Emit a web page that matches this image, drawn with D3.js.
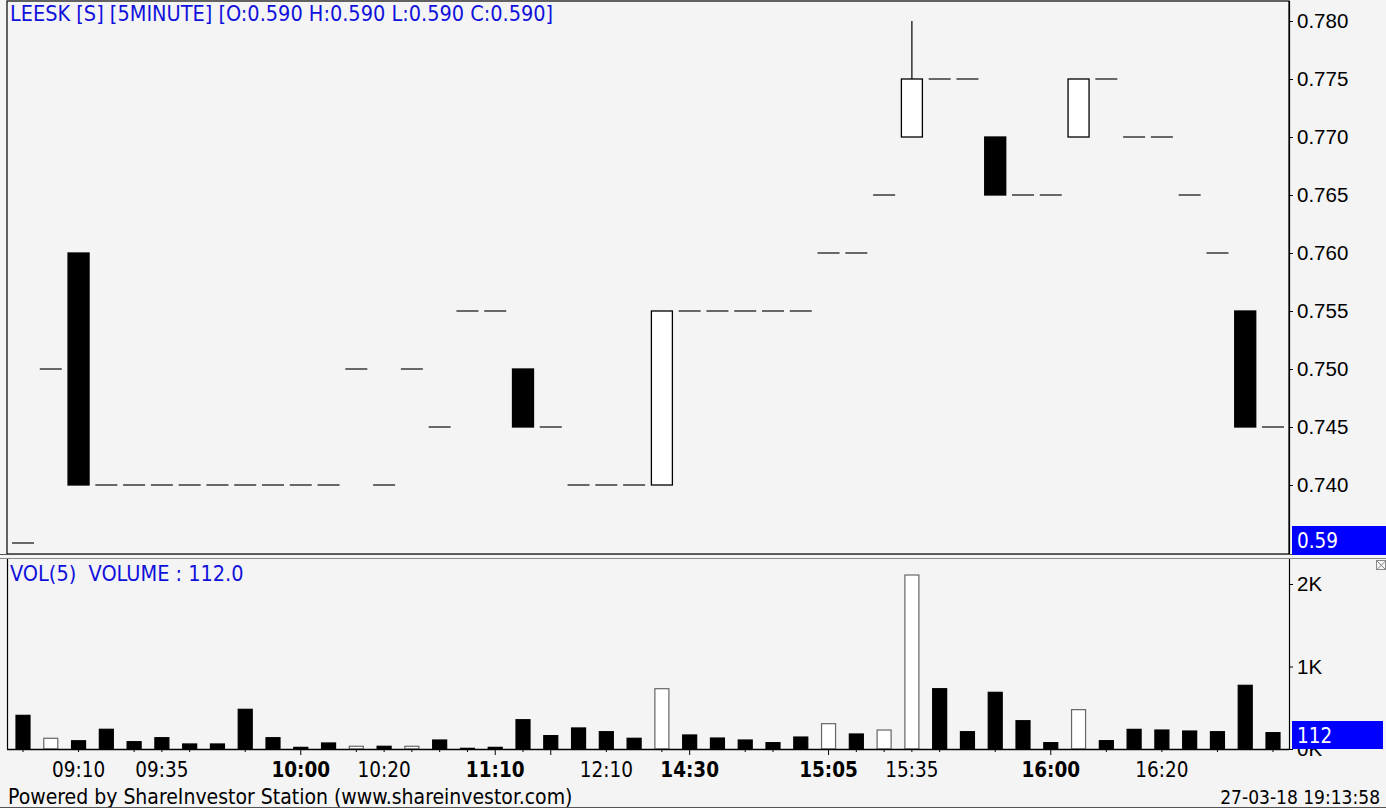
<!DOCTYPE html>
<html><head><meta charset="utf-8">
<script src="https://cdn.jsdelivr.net/npm/d3@7/dist/d3.min.js"></script>
<style>
html,body{margin:0;padding:0;background:#f4f4f4;}
svg{display:block;font-family:'DejaVu Sans Condensed','DejaVu Sans',sans-serif;font-stretch:condensed;}
text{white-space:pre;}
</style></head><body>
<svg id="chart" width="1386" height="808"></svg>
<script>
// ---- data ----
const openP  = [0.590,0.750,0.760,0.740,0.740,0.740,0.740,0.740,0.740,0.740,0.740,0.740,0.750,0.740,0.750,0.745,0.755,0.755,0.750,0.745,0.740,0.740,0.740,0.740,0.755,0.755,0.755,0.755,0.755,0.760,0.760,0.765,0.770,0.775,0.775,0.770,0.765,0.765,0.770,0.775,0.770,0.770,0.765,0.760,0.755,0.745];
const highP  = [0.590,0.750,0.760,0.740,0.740,0.740,0.740,0.740,0.740,0.740,0.740,0.740,0.750,0.740,0.750,0.745,0.755,0.755,0.750,0.745,0.740,0.740,0.740,0.755,0.755,0.755,0.755,0.755,0.755,0.760,0.760,0.765,0.780,0.775,0.775,0.770,0.765,0.765,0.775,0.775,0.770,0.770,0.765,0.760,0.755,0.745];
const lowP   = [0.590,0.750,0.740,0.740,0.740,0.740,0.740,0.740,0.740,0.740,0.740,0.740,0.750,0.740,0.750,0.745,0.755,0.755,0.745,0.745,0.740,0.740,0.740,0.740,0.755,0.755,0.755,0.755,0.755,0.760,0.760,0.765,0.770,0.775,0.775,0.765,0.765,0.765,0.770,0.775,0.770,0.770,0.765,0.760,0.745,0.745];
const closeP = [0.590,0.750,0.740,0.740,0.740,0.740,0.740,0.740,0.740,0.740,0.740,0.740,0.750,0.740,0.750,0.745,0.755,0.755,0.745,0.745,0.740,0.740,0.740,0.755,0.755,0.755,0.755,0.755,0.755,0.760,0.760,0.765,0.775,0.775,0.775,0.765,0.765,0.765,0.775,0.775,0.770,0.770,0.765,0.760,0.745,0.745];
const volume = [408,130,100,239,89,137,61,61,481,137,20,73,33,33,33,109,8,20,355,162,255,210,130,731,170,133,109,77,145,307,182,230,2109,731,210,687,343,77,477,101,238,230,218,210,772,198];
const volUp  = [0,1,0,0,0,0,0,0,0,0,0,0,1,0,1,0,0,0,0,0,0,0,0,1,0,0,0,0,0,1,0,1,1,0,0,0,0,0,1,0,0,0,0,0,0,0];
const priceTicks = [0.740,0.745,0.750,0.755,0.760,0.765,0.770,0.775,0.780];
const volTicks = [0,1000,2000];
const volTickLabels = ["0K","1K","2K"];
const tickIdx = [0,2,4,5,6,8,10,12,13,14,15,16,17,18,19,21,23,24,26,27,29,30,31,32,33,35,37,39,41,43,45];
const longTickIdx = [10,17,19,24,29,37];
const labelIdx  = [2,5,10,13,17,21,24,29,32,37,41];
const labelText = ["09:10","09:35","10:00","10:20","11:10","12:10","14:30","15:05","15:35","16:00","16:20"];
const labelBold = [0,0,1,0,1,0,1,1,0,1,0];
const titleText = "LEESK [S] [5MINUTE] [O:0.590 H:0.590 L:0.590 C:0.590]";
const volTitle = "VOL(5)  VOLUME : 112.0";
const lastPriceLabel = "0.59";
const lastVolLabel = "112";
const footerLeft = "Powered by ShareInvestor Station (www.shareinvestor.com)";
const footerRight = "27-03-18 19:13:58";

// ---- layout ----
const svg = d3.select("#chart");
const W = 1386, H = 808;
const L = 7, R = 1289;
const pTop = 1, pBot = 554;
const vTop = 559, vBot = 749;
const blue = "#0000ff", titleBlue = "#1010dc";
const FS = 20.5, TFS = 21.5;

const n = openP.length;
const x = d3.scaleLinear().domain([0, n-1]).range([23, 1273]);
const y = d3.scaleLinear().domain([0.740, 0.780]).range([485, 21]);
const yv = d3.scaleLinear().domain([0, 2000]).range([vBot, 584]);
const py = v => Math.min(y(v), pBot - 11);

svg.append("rect").attr("width",W).attr("height",H).attr("fill","#f4f4f4");

// panels
svg.append("rect").attr("x",L).attr("y",pTop).attr("width",R-L).attr("height",pBot-pTop)
  .attr("fill","#f4f4f4").attr("stroke","#000").attr("stroke-width",1.2);
svg.append("line").attr("x1",0).attr("x2",W).attr("y1",pBot+0.5).attr("y2",pBot+0.5).attr("stroke","#555");
svg.append("line").attr("x1",0).attr("x2",W).attr("y1",vTop-0.5).attr("y2",vTop-0.5).attr("stroke","#888");
svg.append("line").attr("x1",L+0.5).attr("x2",L+0.5).attr("y1",vTop).attr("y2",vBot).attr("stroke","#000").attr("stroke-width",1.2);

// price axis
const ya = svg.append("g").attr("transform",`translate(${R},0)`)
  .call(d3.axisRight(y).tickValues(priceTicks).tickFormat(d3.format(".3f")).tickSize(4).tickPadding(4));
ya.select(".domain").remove();
ya.selectAll("text").attr("font-size",FS).attr("fill","#000").attr("font-family","inherit");
svg.append("line").attr("x1",R+0.5).attr("x2",R+0.5).attr("y1",pTop).attr("y2",pBot).attr("stroke","#000").attr("stroke-width",1.2);

// volume axis
const va = svg.append("g").attr("transform",`translate(${R},0)`)
  .call(d3.axisRight(yv).tickValues(volTicks).tickFormat((d,i)=>volTickLabels[i]).tickSize(4).tickPadding(4));
va.select(".domain").remove();
va.selectAll("text").attr("font-size",FS).attr("fill","#000").attr("font-family","inherit");
svg.append("line").attr("x1",R+0.5).attr("x2",R+0.5).attr("y1",vTop).attr("y2",vBot).attr("stroke","#000").attr("stroke-width",1.2);

// candles
const data = d3.range(n).map(i => ({i, o:openP[i], h:highP[i], l:lowP[i], c:closeP[i], v:volume[i], up:volUp[i]}));
const bw = 22;
const cg = svg.append("g");
data.forEach(d => {
  const cx = x(d.i);
  if (d.h > Math.max(d.o,d.c)) {
    cg.append("line").attr("x1",cx).attr("x2",cx).attr("y1",py(d.h)).attr("y2",py(Math.max(d.o,d.c))).attr("stroke","#000").attr("stroke-width",1.2);
  }
  if (d.l < Math.min(d.o,d.c)) {
    cg.append("line").attr("x1",cx).attr("x2",cx).attr("y1",py(d.l)).attr("y2",py(Math.min(d.o,d.c))).attr("stroke","#000").attr("stroke-width",1.2);
  }
  if (d.o === d.c) {
    cg.append("line").attr("x1",cx-bw/2).attr("x2",cx+bw/2).attr("y1",py(d.c)).attr("y2",py(d.c))
      .attr("stroke","#686868").attr("stroke-width",2);
  } else {
    const top = py(Math.max(d.o,d.c)), bot = py(Math.min(d.o,d.c));
    const isUp = d.c > d.o;
    cg.append("rect").attr("x",cx-bw/2+0.5).attr("y",top).attr("width",bw-1).attr("height",bot-top)
      .attr("fill", isUp ? "#fff" : "#000").attr("stroke","#000").attr("stroke-width",1.3);
  }
});

// volume bars
const vw = 14;
const vg = svg.append("g");
data.forEach(d => {
  const cx = x(d.i);
  vg.append("rect").attr("x",cx-vw/2).attr("y",yv(d.v)).attr("width",vw).attr("height",Math.max(0.5,vBot-yv(d.v)))
    .attr("fill", d.up ? "#fff" : "#000").attr("stroke", d.up ? "#666" : "#000").attr("stroke-width",1.2);
});

// x axis (bottom)
svg.append("line").attr("x1",L).attr("x2",R).attr("y1",vBot+0.5).attr("y2",vBot+0.5).attr("stroke","#000").attr("stroke-width",1.5);
const xa = svg.append("g").attr("transform",`translate(0,${vBot})`);
xa.selectAll("line.t").data(tickIdx).join("line").attr("class","t")
  .attr("x1",d=>x(d)).attr("x2",d=>x(d)).attr("y1",0).attr("y2",d=>longTickIdx.includes(d)?6:3)
  .attr("stroke","#000").attr("stroke-width",1);
xa.selectAll("text").data(labelIdx).join("text")
  .attr("x",d=>x(d)).attr("y",28).attr("text-anchor","middle")
  .attr("font-size",FS).attr("font-weight",(d,i)=>labelBold[i]?"bold":"normal")
  .text((d,i)=>labelText[i]);

// titles
svg.append("text").attr("x",10).attr("y",21).attr("font-size",TFS).attr("fill",titleBlue).text(titleText);
svg.append("text").attr("x",10).attr("y",581).attr("font-size",TFS).attr("fill",titleBlue).text(volTitle);

// last value markers
svg.append("rect").attr("x",1292).attr("y",pBot-28).attr("width",W-1292).attr("height",29).attr("fill",blue);
svg.append("text").attr("x",1297).attr("y",pBot-6).attr("font-size",FS).attr("fill","#fff").text(lastPriceLabel);
svg.append("rect").attr("x",1292).attr("y",vBot-28).attr("width",1383-1292).attr("height",28).attr("fill",blue);
svg.append("text").attr("x",1297).attr("y",vBot-6).attr("font-size",FS).attr("fill","#fff").text(lastVolLabel);

// close icon
const ic = svg.append("g").attr("transform","translate(1376,560)").attr("stroke","#888").attr("fill","none");
ic.append("rect").attr("x",0.5).attr("y",0.5).attr("width",9).attr("height",9);
ic.append("path").attr("d","M1,1L9.5,9.5M9.5,1L1,9.5");

// footer
svg.append("text").attr("x",8).attr("y",804).attr("font-size",21).attr("fill","#000").text(footerLeft);
svg.append("text").attr("x",1380).attr("y",804).attr("text-anchor","end").attr("font-size",19).attr("fill","#000").text(footerRight);
svg.append("line").attr("x1",0).attr("x2",W).attr("y1",807.5).attr("y2",807.5).attr("stroke","#555");
</script>
</body></html>
